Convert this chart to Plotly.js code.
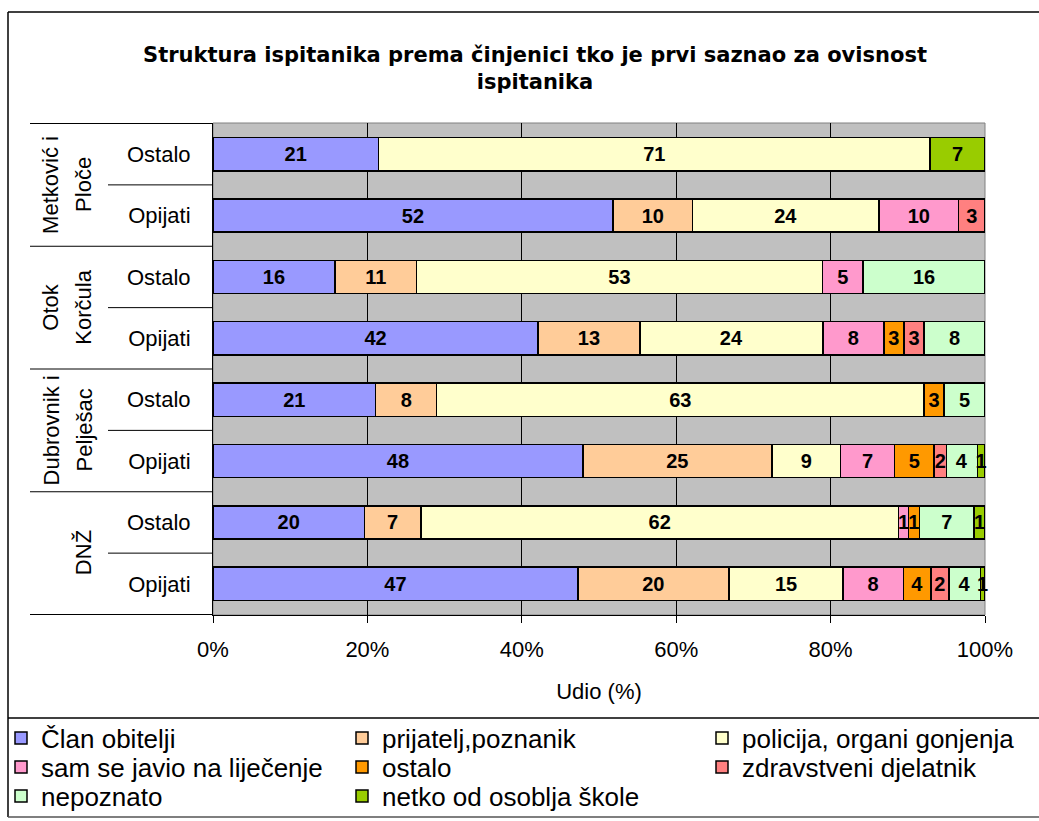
<!DOCTYPE html>
<html>
<head>
<meta charset="utf-8">
<script src="https://cdn.plot.ly/plotly-3.0.1.min.js"></script>
<style>html,body{margin:0;padding:0;background:#fff;}#chart{width:1039px;height:821px;}</style>
</head>
<body>
<div id="chart"></div>
<script>
// ---- Data (percent shares) ----
const groups = ["Metković i Ploče", "Otok Korčula", "Dubrovnik i Pelješac", "DNŽ"];
const groupLines = [["Metković i", "Ploče"], ["Otok", "Korčula"], ["Dubrovnik i", "Pelješac"], ["DNŽ"]];
const subcats = ["Ostalo", "Opijati"];
const seriesNames = ["Član obitelji", "prijatelj,poznanik", "policija, organi gonjenja",
  "sam se javio na liječenje", "ostalo", "zdravstveni djelatnik", "nepoznato", "netko od osoblja škole"];
// order of rows: Met Ostalo, Met Opijati, Kor Ostalo, Kor Opijati, Dub Ostalo, Dub Opijati, DNŽ Ostalo, DNŽ Opijati
const clan      = [21.4, 51.7, 15.8, 42.1, 21.1, 47.9, 19.6, 47.3];
const prijatelj = [null, 10.3, 10.6, 13.2, 7.9, 24.5, 7.3, 19.6];
const policija  = [71.4, 24.1, 52.6, 23.7, 63.2, 8.9, 61.8, 14.8];
const samSe     = [null, 10.3, 5.3, 7.9, null, 7.0, 1.3, 7.8];
const ostalo    = [null, null, null, 2.6, 2.6, 5.1, 1.4, 3.6];
const zdrav     = [null, 3.4, null, 2.6, null, 1.6, null, 2.3];
const nepoznato = [null, null, 15.8, 7.9, 5.3, 4.0, 7.1, 4.1];
const netko     = [7.1, null, null, null, null, 1.0, 1.4, 0.6];
const xTicks = [0, 20, 40, 60, 80, 100];

// ---- Styles ----
const colors = ["#9999FF", "#FFCC99", "#FFFFCC", "#FF99CC", "#FF9900", "#FF8080", "#CCFFCC", "#99CC00"];
const FONT = "Liberation Sans, Arial, sans-serif";
const W = 1039, H = 821;
const PL = 213, PR = 985, PT = 123, PB = 615;
const px2x = p => (p - PL) / (PR - PL);
const py2y = p => (PB - p) / (PB - PT);

const rowIds = [];
const rowText = [];
groups.forEach(g => subcats.forEach(s => { rowIds.push(g + " – " + s); rowText.push(s); }));

const seriesData = [clan, prijatelj, policija, samSe, ostalo, zdrav, nepoznato, netko];
// legend grid position (column, row) of each series
const legPos = [[0,0],[1,0],[2,0],[0,1],[1,1],[2,1],[0,2],[1,2]];
const legColX = [1, 342, 702];
const legRowY = [738, 767, 796];

const traces = seriesData.map((vals, i) => ({
  type: "bar",
  orientation: "h",
  name: seriesNames[i],
  y: rowIds,
  x: vals,
  marker: { color: colors[i], line: { color: "#000", width: 1.5 } },
  texttemplate: "%{x:.0f}",
  textposition: "inside",
  insidetextanchor: "middle",
  textfont: { family: FONT, size: 20, color: "#000", weight: 700 },
  cliponaxis: false,
  legend: i === 0 ? "legend" : "legend" + (i + 1),
  hoverinfo: "name+x"
}));

const layout = {
  width: W, height: H,
  paper_bgcolor: "#fff",
  plot_bgcolor: "#C0C0C0",
  margin: { l: PL, r: W - PR, t: PT, b: H - PB, pad: 0, autoexpand: false },
  barmode: "stack",
  barnorm: "percent",
  bargap: 0.46,
  showlegend: true,
  uniformtext: { mode: "show", minsize: 20 },
  font: { family: FONT, color: "#000" },
  title: {
    text: "Struktura ispitanika prema činjenici tko je prvi saznao za ovisnost<br>ispitanika",
    font: { family: "DejaVu Sans, Liberation Sans, sans-serif", size: 21, weight: 700, color: "#000" },
    xref: "container", x: 535 / W, xanchor: "center",
    yref: "container", y: 1 - 62 / H, yanchor: "middle"
  },
  xaxis: {
    range: [0, 100],
    tickvals: xTicks,
    ticktext: xTicks.map(v => v + "%"),
    tickangle: 0,
    ticks: "outside", ticklen: 7, tickcolor: "#000", tickwidth: 1,
    ticklabelstandoff: 8,
    tickfont: { family: FONT, size: 22, color: "#000" },
    showgrid: true, gridcolor: "#000", gridwidth: 1,
    showline: true, linecolor: "#000", linewidth: 1,
    zeroline: false, fixedrange: true, automargin: false,
    title: { text: "Udio (%)", font: { family: FONT, size: 22, color: "#000" }, standoff: 22 }
  },
  yaxis: {
    type: "category",
    categoryorder: "array", categoryarray: rowIds,
    autorange: "reversed",
    tickvals: rowIds, ticktext: rowText,
    ticks: "", ticklabelstandoff: 17,
    tickfont: { family: FONT, size: 22, color: "#000" },
    showgrid: false, showline: true, linecolor: "#000", linewidth: 1,
    zeroline: false, fixedrange: true, automargin: false
  },
  shapes: [],
  annotations: []
};

// Plot-area border (grey, top/right)
layout.shapes.push({ type: "rect", xref: "paper", yref: "paper", x0: 0, x1: 1, y0: 0, y1: 1,
  line: { color: "#808080", width: 1 }, layer: "below" });

// Category divider lines to the left of the plot
for (let g = 0; g <= groups.length; g++) {
  const yv = g * 2 - 0.5;
  layout.shapes.push({ type: "line", xref: "paper", yref: "y", x0: px2x(30), x1: 0, y0: yv, y1: yv,
    line: { color: "#000", width: 1 } });
}
for (let g = 0; g < groups.length; g++) {
  const yv = g * 2 + 0.5;
  layout.shapes.push({ type: "line", xref: "paper", yref: "y", x0: px2x(108), x1: 0, y0: yv, y1: yv,
    line: { color: "#000", width: 1 } });
}
// Chart frame and legend box
layout.shapes.push({ type: "line", xref: "paper", yref: "paper", x0: px2x(8), x1: px2x(8), y0: py2y(12), y1: py2y(817), line: { color: "#000", width: 1.5 } });
layout.shapes.push({ type: "line", xref: "paper", yref: "paper", x0: px2x(8), x1: px2x(1039), y0: py2y(12), y1: py2y(12), line: { color: "#000", width: 1.5 } });
layout.shapes.push({ type: "line", xref: "paper", yref: "paper", x0: px2x(8), x1: px2x(1039), y0: py2y(718), y1: py2y(718), line: { color: "#000", width: 1.5 } });
layout.shapes.push({ type: "line", xref: "paper", yref: "paper", x0: px2x(8), x1: px2x(1039), y0: py2y(817), y1: py2y(817), line: { color: "#555", width: 1.5 } });

// Group labels (rotated)
groupLines.forEach((lines, g) => {
  const xs = lines.length === 2 ? [51, 84] : [83];
  lines.forEach((t, k) => {
    layout.annotations.push({
      text: t, xref: "paper", yref: "y", x: px2x(xs[k]), y: g * 2 + 0.5,
      xanchor: "center", yanchor: "middle", textangle: -90, showarrow: false,
      font: { family: FONT, size: 22, color: "#000" }
    });
  });
});

// One small legend per entry to reproduce the 3-column grid
seriesNames.forEach((n, i) => {
  const key = i === 0 ? "legend" : "legend" + (i + 1);
  const [c, r] = legPos[i];
  layout[key] = {
    visible: true,
    xref: "container", yref: "container",
    x: legColX[c] / W, xanchor: "left",
    y: 1 - legRowY[r] / H, yanchor: "middle",
    bgcolor: "rgba(0,0,0,0)", borderwidth: 0,
    font: { family: FONT, size: 26, color: "#000" },
    itemclick: false, itemdoubleclick: false
  };
});

Plotly.newPlot("chart", traces, layout, { displayModeBar: false, staticPlot: true });
</script>
</body>
</html>
